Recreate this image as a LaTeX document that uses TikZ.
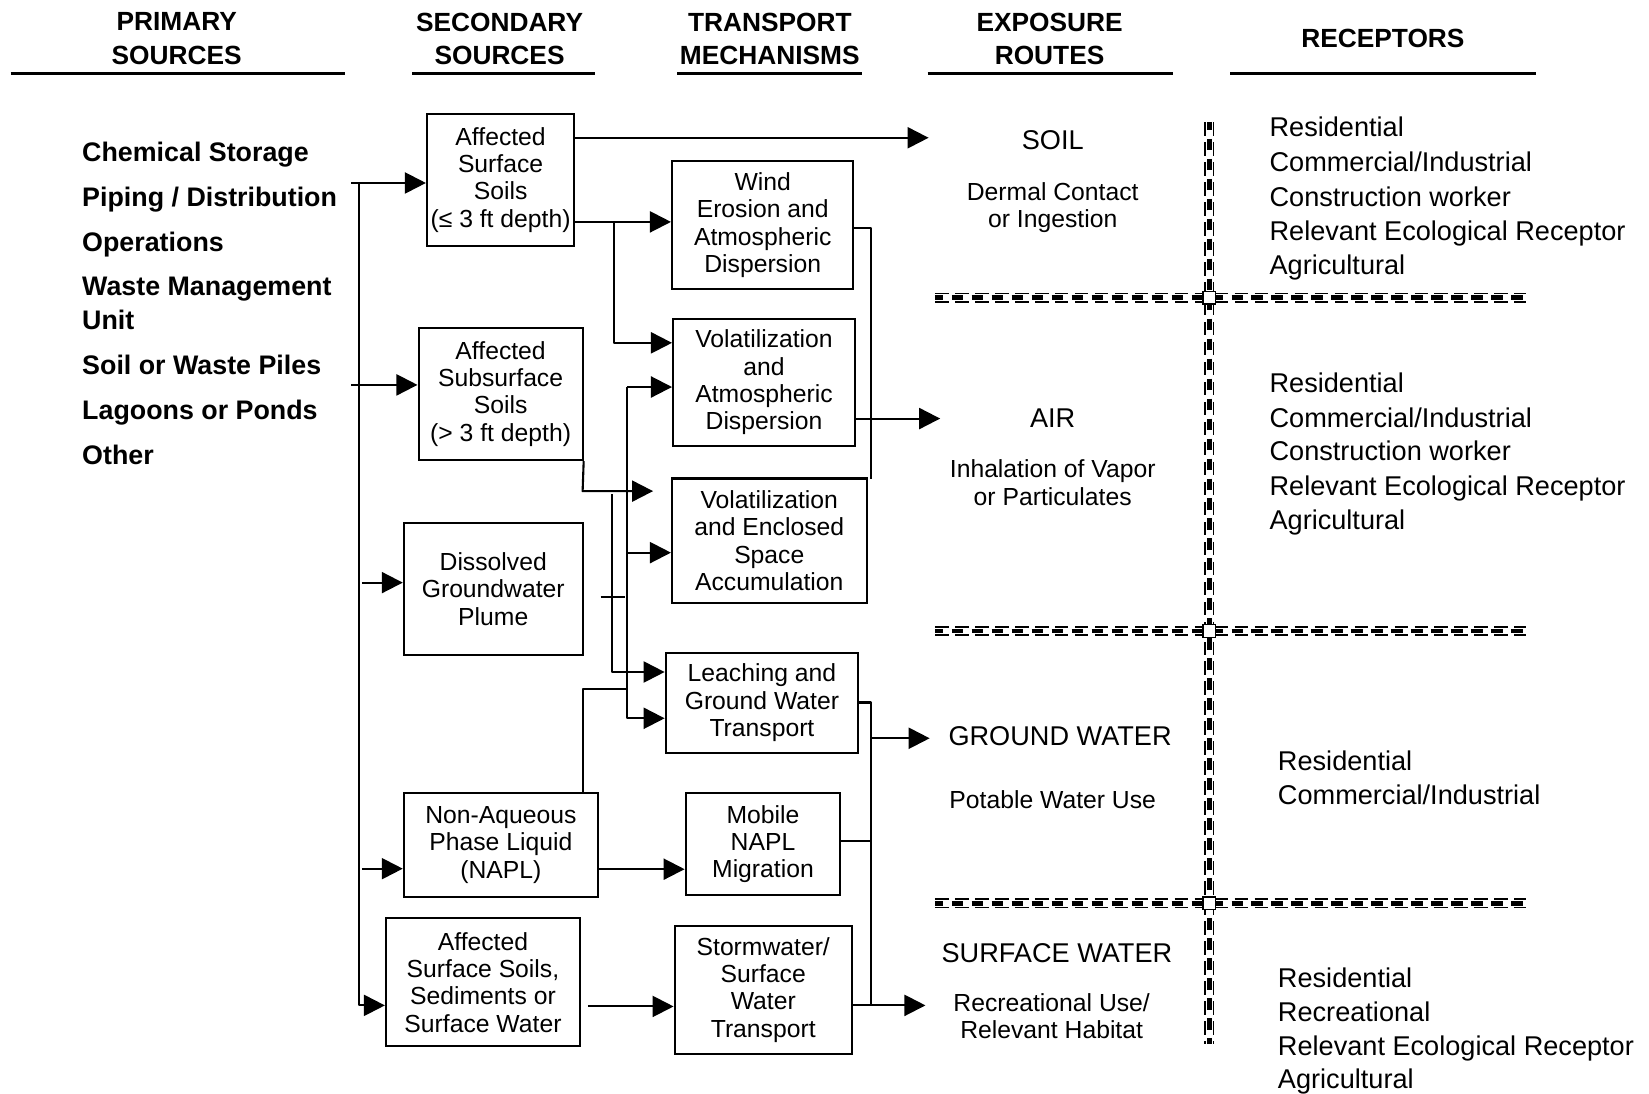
\documentclass[tikz,border=0pt]{standalone}
\usepackage{fontspec}
\setmainfont{Liberation Sans}
\usetikzlibrary{arrows.meta}
\begin{document}
\begin{tikzpicture}[x=1pt,y=-1pt,
  box/.style={draw, line width=2pt, inner sep=0pt, align=center, font=\fontsize{23.5}{26}\selectfont},
  arr/.style={line width=2pt, line join=round, -{Triangle[length=20pt,width=20pt]}},
  ln/.style={line width=2pt, line join=round},
  hdr/.style={align=center, font=\bfseries\fontsize{25}{32}\selectfont, inner sep=0pt},
  src/.style={anchor=west, font=\bfseries\fontsize{25.5}{32}\selectfont, inner sep=0pt, text height=18.3pt, text depth=0pt},
  rcp/.style={anchor=west, font=\fontsize{25.8}{32}\selectfont, inner sep=0pt, text height=18.5pt, text depth=0pt},
  route/.style={font=\fontsize{25.8}{32}\selectfont, inner sep=0pt, text height=18.5pt, text depth=0pt},
  routesub/.style={align=center, font=\fontsize{23.5}{26}\selectfont, inner sep=0pt},
  uline/.style={line width=2.2pt},
  sepdbl/.style={line width=1.7pt, double distance=6pt, dash pattern=on 13pt off 6pt},
  sepmid/.style={line width=4.5pt, dash pattern=on 11pt off 8pt, dash phase=3pt},
  sqr/.style={draw, fill=white, minimum size=12pt, inner sep=0pt, line width=1.3pt}
]
\useasboundingbox (0,0) rectangle (1568,1040);
\fill[white] (0,0) rectangle (1568,1040);

% ---------- headers ----------
\node[hdr] (h1) at (168,37) {PRIMARY\\SOURCES};
\node[hdr] (h2) at (475,37) {SECONDARY\\SOURCES};
\node[hdr] (h3) at (732,37) {TRANSPORT\\MECHANISMS};
\node[hdr] (h4) at (998,37) {EXPOSURE\\ROUTES};
\node[hdr] (h5) at (1315,37) {RECEPTORS};
\coordinate (u1a) at (10,70);   \coordinate (u1b) at (328,70);
\coordinate (u2a) at (392,70);  \coordinate (u2b) at (566,70);
\coordinate (u3a) at (644,70);  \coordinate (u3b) at (820,70);
\coordinate (u4a) at (882,70);  \coordinate (u4b) at (1115,70);
\coordinate (u5a) at (1170,70); \coordinate (u5b) at (1461,70);
\draw[uline] (u1a) -- (u1b);
\draw[uline] (u2a) -- (u2b);
\draw[uline] (u3a) -- (u3b);
\draw[uline] (u4a) -- (u4b);
\draw[uline] (u5a) -- (u5b);

% ---------- primary sources ----------
\node[src] (ps1) at (78,144) {Chemical Storage};
\node[src] (ps2) at (78,187) {Piping / Distribution};
\node[src] (ps3) at (78,230) {Operations};
\node[src] (ps4) at (78,272) {Waste Management};
\node[src] (ps5) at (78,304) {Unit};
\node[src] (ps6) at (78,347) {Soil or Waste Piles};
\node[src] (ps7) at (78,390) {Lagoons or Ponds};
\node[src] (ps8) at (78,433) {Other};

% ---------- secondary sources ----------
\node[box, minimum width=140pt, minimum height=126pt] (A1) at (476,171) {Affected\\Surface\\Soils\\(≤ 3 ft depth)};
\node[box, minimum width=156pt, minimum height=126pt] (A2) at (476,374.5) {Affected\\Subsurface\\Soils\\(> 3 ft depth)};
\node[box, minimum width=170pt, minimum height=126pt] (DG) at (469,560) {Dissolved\\Groundwater\\Plume};
\node[box, minimum width=184.5pt, minimum height=99pt] (NAPL) at (476.25,803.5) {Non-Aqueous\\Phase Liquid\\(NAPL)};
\node[box, minimum width=184.5pt, minimum height=122pt] (ASW) at (459.25,934) {Affected\\Surface Soils,\\Sediments or\\Surface Water};

% ---------- transport mechanisms ----------
\node[box, minimum width=172.5pt, minimum height=122pt] (Wind) at (725.25,214) {Wind\\Erosion and\\Atmospheric\\Dispersion};
\node[box, minimum width=173pt, minimum height=120.5pt] (VA) at (726.5,363.75) {Volatilization\\and\\Atmospheric\\Dispersion};
\node[box, minimum width=185pt, minimum height=118.5pt] (VE) at (731.5,514.25) {Volatilization\\and Enclosed\\Space\\Accumulation};
\node[box, minimum width=183pt, minimum height=95.4pt] (LG) at (724.5,668.3) {Leaching and\\Ground Water\\Transport};
\node[box, minimum width=147pt, minimum height=97pt] (MN) at (725.5,802.5) {Mobile\\NAPL\\Migration};
\node[box, minimum width=168.5pt, minimum height=121.5pt] (SW) at (725.75,941.25) {Stormwater/\\Surface\\Water\\Transport};

% ---------- exposure routes ----------
\node[route] (soil) at (1001,133) {SOIL};
\node[routesub] (soilsub) at (1001,197.5) {Dermal Contact\\or Ingestion};
\node[route] (air) at (1001,397) {AIR};
\node[routesub] (airsub) at (1001,459) {Inhalation of Vapor\\or Particulates};
\node[route] (gw) at (1008,700) {GROUND WATER};
\node[routesub] (gwsub) at (1001,760) {Potable Water Use};
\node[route] (sw) at (1005,906) {SURFACE WATER};
\node[routesub] (swsub) at (1000,966.5) {Recreational Use/\\Relevant Habitat};

% ---------- receptors ----------
\node[rcp] (ra1) at (1207,121) {Residential};
\node[rcp] (ra2) at (1207,154) {Commercial/Industrial};
\node[rcp] (ra3) at (1207,187) {Construction worker};
\node[rcp] (ra4) at (1207,219) {Relevant Ecological Receptor};
\node[rcp] (ra5) at (1207,252) {Agricultural};
\node[rcp] (rb1) at (1207,364) {Residential};
\node[rcp] (rb2) at (1207,397) {Commercial/Industrial};
\node[rcp] (rb3) at (1207,429) {Construction worker};
\node[rcp] (rb4) at (1207,462) {Relevant Ecological Receptor};
\node[rcp] (rb5) at (1207,494) {Agricultural};
\node[rcp] (rc1) at (1215,723) {Residential};
\node[rcp] (rc2) at (1215,756) {Commercial/Industrial};
\node[rcp] (rd1) at (1215,930) {Residential};
\node[rcp] (rd2) at (1215,962) {Recreational};
\node[rcp] (rd3) at (1215,994) {Relevant Ecological Receptor};
\node[rcp] (rd4) at (1215,1026) {Agricultural};

% ---------- separators ----------
\coordinate (va) at (1150,116); \coordinate (vb) at (1150,993);
\coordinate (s1a) at (889,283); \coordinate (s1b) at (1451,283);
\coordinate (s2a) at (889,600); \coordinate (s2b) at (1451,600);
\coordinate (s3a) at (889,859); \coordinate (s3b) at (1451,859);
\draw[sepdbl] (va) -- (vb);
\draw[sepmid] (va) -- (vb);
\foreach \a/\b in {s1a/s1b, s2a/s2b, s3a/s3b} {
  \draw[sepdbl] (\a) -- (\b);
  \draw[sepmid] (\a) -- (\b);
}
\node[sqr] (x1) at (1150,283) {};
\node[sqr] (x2) at (1150,600) {};
\node[sqr] (x3) at (1150,859) {};

% ---------- left trunk ----------
\coordinate (trTop) at (341,174);
\coordinate (trBot) at (341,956);
\coordinate (p1) at (334,174);
\coordinate (p2) at (334,366);
\coordinate (p3) at (344,554);
\coordinate (p4) at (344,826);
\draw[arr] (trTop) -- (trBot) -- (trBot -| ASW.west);
\draw[arr] (p1) -- (p1 -| A1.west);
\draw[arr] (p2) -- (p2 -| A2.west);
\draw[arr] (p3) -- (p3 -| DG.west);
\draw[arr] (p4) -- (p4 -| NAPL.west);

% ---------- secondary -> transport / routes ----------
\coordinate (soilTip) at (883,131);
\draw[arr] (A1.east |- soilTip) -- (soilTip);
\coordinate (j1) at (584,211);
\coordinate (j2) at (584,326);
\draw[arr] (A1.east |- j1) -- (j1 -| Wind.west);
\draw[arr] (j1) -- (j2) -- (j2 -| VA.west);

\coordinate (k1) at (554,467);
\coordinate (k2) at (621,467);
\draw[arr] (A2.south east) -- (k1) -- (k2);

\coordinate (c1) at (582,470);
\coordinate (c2) at (582,639);
\draw[arr] (c1) -- (c2) -- (c2 -| LG.west);

\coordinate (b1) at (596,368);
\coordinate (b2) at (596,683);
\coordinate (b3) at (596,525.5);
\draw[arr] (b1) -- (b2) -- (b2 -| LG.west);
\draw[arr] (b1) -- (b1 -| VA.west);
\draw[arr] (b3) -- (b3 -| VE.west);

\coordinate (d1) at (571,568);
\coordinate (d2) at (594,568);
\draw[ln] (d1) -- (d2);

\coordinate (n1) at (554,655);
\draw[ln] (n1 |- NAPL.north) -- (n1) -- (n1 -| b1);
\coordinate (n2) at (571,826.5);
\draw[arr] (NAPL.east |- n2) -- (n2 -| MN.west);

\coordinate (sw1) at (559,957);
\draw[arr] (sw1) -- (sw1 -| SW.west);

% ---------- transport -> routes ----------
\coordinate (r1) at (828,217);
\coordinate (r2) at (828,455);
\draw[ln] (Wind.east |- r1) -- (r1) -- (r2);
\coordinate (airTip) at (894,398);
\draw[arr] (VA.east |- airTip) -- (airTip);

\coordinate (r3) at (828,668);
\coordinate (r4) at (828,956);
\draw[ln] (LG.east |- r3) -- (r3) -- (r4);
\coordinate (gwTip) at (884,702);
\draw[arr] (r3 |- gwTip) -- (gwTip);
\coordinate (r5) at (828,800);
\draw[ln] (MN.east |- r5) -- (r5);
\coordinate (swTip) at (880,956);
\draw[arr] (SW.east |- swTip) -- (swTip);
\end{tikzpicture}
\end{document}
